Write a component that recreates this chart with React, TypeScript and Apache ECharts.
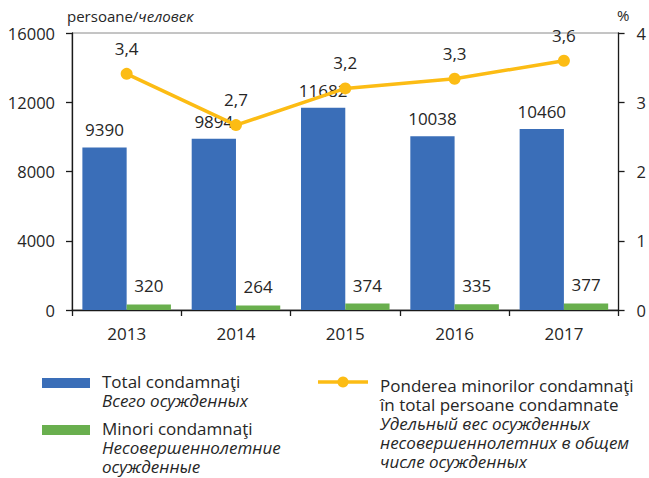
import React, { useEffect, useRef } from "react";
import * as echarts from "echarts";

const years = ["2013", "2014", "2015", "2016", "2017"];
const totalConvicted = [9390, 9894, 11682, 10038, 10460];
const minorsConvicted = [320, 264, 374, 335, 377];
const shareMinors = [3.41, 2.67, 3.2, 3.34, 3.6];
const leftTicks = [0, 4000, 8000, 12000, 16000];
const rightTicks = [0, 1, 2, 3, 4];

const FONT = "'Open Sans', 'Noto Sans', sans-serif";
const TXT = "#262626";
const AX = "#1a1a1a";
const BLUE = "#3A6EB8";
const GREEN = "#69AF4E";
const GOLD = "#FCBC14";

export default function App() {
  const ref = useRef<HTMLDivElement>(null);
  useEffect(() => {
    if (!ref.current) return;
    const chart = echarts.init(ref.current, null, { renderer: "svg" });
    const rich = {
      r: { fontSize: 17, fontFamily: FONT, fill: TXT, lineHeight: 19 },
      i: { fontSize: 17, fontFamily: FONT, fontStyle: "italic", fill: TXT, lineHeight: 19 },
    };
    const legendText = (x: number, y: number, lines: { t: string; it?: boolean }[]) => ({
      type: "text",
      left: x,
      top: y,
      style: {
        text: lines.map((l) => `{${l.it ? "i" : "r"}|${l.t}}`).join("\n"),
        rich,
      },
    });
    chart.setOption({
      animation: false,
      textStyle: { fontFamily: FONT },
      grid: { left: 72, right: 28, top: 33, bottom: 168, show: true, borderColor: "#8a8a8a", borderWidth: 1 },
      xAxis: {
        type: "category",
        data: years,
        axisLine: { lineStyle: { color: AX, width: 1.3 } },
        axisTick: { show: true, length: 6, lineStyle: { color: AX, width: 1.3 } },
        axisLabel: { color: TXT, fontSize: 17, margin: 15, fontFamily: FONT },
      },
      yAxis: [
        {
          type: "value",
          min: leftTicks[0],
          max: leftTicks[leftTicks.length - 1],
          interval: leftTicks[1] - leftTicks[0],
          axisLine: { show: true, lineStyle: { color: AX, width: 1.3 } },
          axisTick: { show: true, length: 6, lineStyle: { color: AX, width: 1.3 } },
          axisLabel: { color: TXT, fontSize: 16.5, margin: 17, fontFamily: FONT, formatter: (v: number) => String(v) },
          splitLine: { show: false },
        },
        {
          type: "value",
          min: rightTicks[0],
          max: rightTicks[rightTicks.length - 1],
          interval: rightTicks[1] - rightTicks[0],
          position: "right",
          axisLine: { show: true, lineStyle: { color: AX, width: 1.3 } },
          axisTick: { show: true, length: 6, lineStyle: { color: AX, width: 1.3 } },
          axisLabel: { color: TXT, fontSize: 16.5, margin: 18, fontFamily: FONT, formatter: (v: number) => String(v) },
          splitLine: { show: false },
        },
      ],
      series: [
        {
          name: "Total condamnaţi",
          type: "bar",
          data: totalConvicted,
          barGap: "0%",
          barCategoryGap: "19%",
          itemStyle: { color: BLUE },
          label: { show: true, position: "top", distance: 9, color: TXT, fontSize: 17, fontFamily: FONT },
        },
        {
          name: "Minori condamnaţi",
          type: "bar",
          data: minorsConvicted,
          itemStyle: { color: GREEN },
          label: { show: true, position: "top", distance: 10, color: TXT, fontSize: 17, fontFamily: FONT },
        },
        {
          name: "Ponderea",
          type: "line",
          yAxisIndex: 1,
          data: shareMinors,
          lineStyle: { color: GOLD, width: 3.5 },
          itemStyle: { color: GOLD },
          symbol: "circle",
          symbolSize: 12,
          label: {
            show: true,
            position: "top",
            distance: 11,
            color: TXT,
            fontSize: 17,
            fontFamily: FONT,
            formatter: (p: any) => Number(p.value).toFixed(1).replace(".", ","),
          },
          z: 5,
        },
      ],
      graphic: [
        {
          type: "text",
          left: 67,
          top: 8,
          style: {
            text: "{a|persoane/}{b|человек}",
            rich: {
              a: { fontSize: 15, fontFamily: FONT, fill: TXT },
              b: { fontSize: 15, fontFamily: FONT, fontStyle: "italic", fill: TXT },
            },
          },
        },
        {
          type: "text",
          left: 617,
          top: 7,
          style: { text: "%", font: `15px ${FONT}`, fill: TXT },
        },
        { type: "rect", shape: { x: 42, y: 378, width: 48, height: 10 }, style: { fill: BLUE } },
        { type: "rect", shape: { x: 42, y: 425, width: 48, height: 10 }, style: { fill: GREEN } },
        { type: "line", shape: { x1: 318, y1: 382, x2: 368, y2: 382 }, style: { stroke: GOLD, lineWidth: 3.5 } },
        { type: "circle", shape: { cx: 343, cy: 382, r: 5.5 }, style: { fill: GOLD } },
        legendText(102, 373, [{ t: "Total condamnaţi" }, { t: "Всего осужденных", it: true }]),
        legendText(102, 420, [
          { t: "Minori condamnaţi" },
          { t: "Несовершеннолетние", it: true },
          { t: "осужденные", it: true },
        ]),
        legendText(380, 377, [
          { t: "Ponderea minorilor condamnaţi" },
          { t: "în total persoane condamnate" },
          { t: "Удельный вес осужденных", it: true },
          { t: "несовершеннолетних в общем", it: true },
          { t: "числе осужденных", it: true },
        ]),
      ],
    });
    return () => chart.dispose();
  }, []);
  return <div ref={ref} style={{ position: "absolute", left: 0, top: 0, width: 649, height: 478 }} />;
}
